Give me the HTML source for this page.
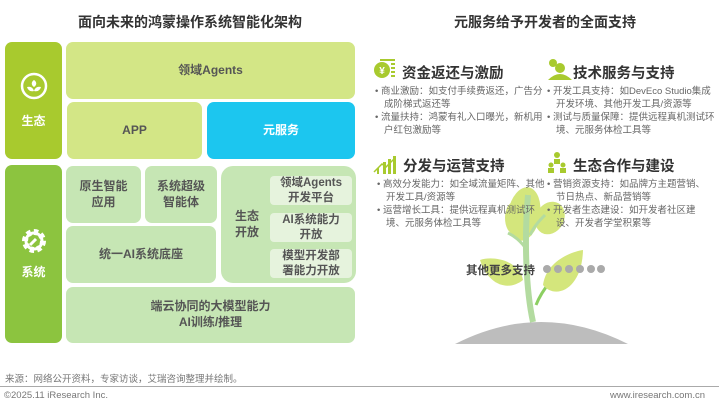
<!DOCTYPE html>
<html><head><meta charset="utf-8"><style>
body{margin:0;width:719px;height:402px;background:#fff;position:relative;overflow:hidden;font-family:"Liberation Sans","Noto Sans CJK SC",sans-serif;}
.a{position:absolute;box-sizing:border-box;display:flex;align-items:center;justify-content:center;text-align:center;font-weight:bold;color:#555;border-radius:7px;line-height:1.3;}
.t{position:absolute;font-weight:bold;color:#333;}
.h{position:absolute;font-size:14.5px;font-weight:bold;color:#333;}
.b{position:absolute;font-size:9.5px;color:#666;line-height:13px;width:172px;}
.b p{margin:0;padding-left:9px;text-indent:-9px;}
</style></head><body>
<div class="t" style="left:0;width:380px;top:12px;text-align:center;font-size:14px">面向未来的鸿蒙操作系统智能化架构</div>
<div class="t" style="left:380px;width:330px;top:12px;text-align:center;font-size:14px">元服务给予开发者的全面支持</div>

<div class="a" style="left:5px;top:42px;width:57px;height:117px;background:#a8ca2e;color:#fff;flex-direction:column;font-size:12px">
<svg width="28" height="28" viewBox="0 0 28 28" style="margin-bottom:14px"><circle cx="14" cy="14" r="12" fill="none" stroke="#fff" stroke-width="2.5"/><path d="M14 8c3 2 3 5 0 7c-3-2-3-5 0-7zM7 15c4-1 6 1 7 4c-4 1-6-1-7-4zM21 15c-4-1-6 1-7 4c4 1 6-1 7-4z" fill="#fff"/></svg>生态</div>
<div class="a" style="left:5px;top:165px;width:57px;height:178px;background:#8cc43f;color:#fff;flex-direction:column;font-size:12px">
<svg width="28" height="28" viewBox="0 0 28 28" style="margin-bottom:10px"><circle cx="14" cy="14" r="9" fill="none" stroke="#fff" stroke-width="6" stroke-dasharray="4 3"/><circle cx="14" cy="14" r="8" fill="none" stroke="#fff" stroke-width="3"/><path d="M10 18l6-6" stroke="#fff" stroke-width="3"/></svg>系统</div>

<div class="a" style="left:66px;top:42px;width:289px;height:57px;background:#d3e686;font-size:12px">领域Agents</div>
<div class="a" style="left:67px;top:102px;width:135px;height:57px;background:#d3e686;font-size:12px">APP</div>
<div class="a" style="left:207px;top:102px;width:148px;height:57px;background:#1cc6ef;color:#fff;font-size:12px">元服务</div>

<div class="a" style="left:66px;top:166px;width:75px;height:57px;background:#c6e6b4;font-size:12px">原生智能<br>应用</div>
<div class="a" style="left:145px;top:166px;width:72px;height:57px;background:#c6e6b4;font-size:12px">系统超级<br>智能体</div>
<div class="a" style="left:66px;top:226px;width:150px;height:57px;background:#c6e6b4;font-size:12px">统一AI系统底座</div>
<div class="a" style="left:221px;top:166px;width:135px;height:117px;background:#c6e6b4;border-radius:12px;justify-content:flex-start;padding-left:14px;font-size:12px">生态<br>开放</div>
<div class="a" style="left:270px;top:176px;width:82px;height:29px;background:#e6f3dd;border-radius:4px;font-size:11.5px;line-height:1.25">领域Agents<br>开发平台</div>
<div class="a" style="left:270px;top:213px;width:82px;height:29px;background:#e6f3dd;border-radius:4px;font-size:11.5px;line-height:1.25">AI系统能力<br>开放</div>
<div class="a" style="left:270px;top:249px;width:82px;height:29px;background:#e6f3dd;border-radius:4px;font-size:11.5px;line-height:1.25">模型开发部<br>署能力开放</div>
<div class="a" style="left:66px;top:287px;width:289px;height:56px;background:#c6e6b4;font-size:12px">端云协同的大模型能力<br>AI训练/推理</div>

<div style="position:absolute;left:5px;top:371px;font-size:9.5px;color:#777">来源：网络公开资料，专家访谈，艾瑞咨询整理并绘制。</div>
<div style="position:absolute;left:0;top:386px;width:719px;height:1px;background:#aaa"></div>
<div style="position:absolute;left:4px;top:390px;font-size:9.5px;color:#777">©2025.11 iResearch Inc.</div>
<div style="position:absolute;right:14px;top:390px;font-size:9.5px;color:#777">www.iresearch.com.cn</div>

<svg style="position:absolute;left:0;top:0" width="719" height="402">
<path d="M455 344 Q541 300 628 344 Z" fill="#bdbdbd"/>
<ellipse cx="524" cy="214" rx="16" ry="27" fill="#d4e67c" transform="rotate(10 524 214)"/>
<ellipse cx="514" cy="218" rx="9" ry="16" fill="#d4e67c"/>
<ellipse cx="550" cy="218" rx="14" ry="17" fill="#d4e67c" transform="rotate(30 550 218)"/>
<path d="M533 322 C526 290 524 240 528 195" stroke="#b3dba0" stroke-width="6" fill="none"/>
<path d="M527 250 C520 240 514 236 508 233" stroke="#b3dba0" stroke-width="3" fill="none"/>
<path d="M530 235 C535 225 540 220 545 215" stroke="#b3dba0" stroke-width="3" fill="none"/>
<path d="M536 305 C540 295 545 288 550 282" stroke="#8ccf62" stroke-width="3" fill="none"/>
<path d="M480 260 C495 255 520 262 523 280 C508 292 488 285 480 260Z" fill="#d4e67c"/>
<path d="M583 250 C570 252 546 262 543 285 C555 300 582 290 583 250Z" fill="#d4e67c"/>
<g fill="#aaa"><circle cx="547" cy="269" r="4"/><circle cx="558" cy="269" r="4"/><circle cx="569" cy="269" r="4"/><circle cx="580" cy="269" r="4"/><circle cx="591" cy="269" r="4"/><circle cx="601" cy="269" r="4"/></g>
<circle cx="382" cy="70" r="8" fill="#a8ca2e"/><text x="382" y="74" font-size="10" fill="#fff" text-anchor="middle" font-weight="bold">¥</text>
<g fill="#a8ca2e"><rect x="380" y="59" width="15" height="2"/><rect x="391" y="63" width="4" height="2"/><rect x="391" y="67" width="4" height="2"/><rect x="391" y="71" width="4" height="2"/><rect x="391" y="75" width="4" height="2"/></g>
<g fill="#a8ca2e"><circle cx="553" cy="63" r="4"/><circle cx="560" cy="68" r="5"/><path d="M548 80 q12-12 24 0z"/>
<rect x="377" y="168" width="2" height="6"/><rect x="383" y="162" width="3" height="12"/><rect x="388" y="159" width="3" height="15"/><rect x="393" y="156" width="3" height="18"/><path d="M374 172 l8-8 4 3 8-8" stroke="#a8ca2e" fill="none" stroke-width="1.5"/>
<circle cx="557" cy="155" r="3"/><rect x="554" y="159" width="6" height="5"/><circle cx="551" cy="165" r="2.5"/><rect x="548" y="168" width="6" height="5"/><circle cx="563" cy="165" r="2.5"/><rect x="560" y="168" width="6" height="5"/></g>
</svg>
<div style="position:absolute;left:466px;top:262px;font-size:11.5px;font-weight:bold;color:#444">其他更多支持</div>

<div class="h" style="left:402px;top:62px">资金返还与激励</div>
<div class="b" style="left:375px;top:85px"><p>• 商业激励：如支付手续费返还，广告分成阶梯式返还等</p><p>• 流量扶持：鸿蒙有礼入口曝光，新机用户红包激励等</p></div>
<div class="h" style="left:573px;top:62px">技术服务与支持</div>
<div class="b" style="left:547px;top:85px;width:170px"><p>• 开发工具支持：如DevEco Studio集成开发环境、其他开发工具/资源等</p><p>• 测试与质量保障：提供远程真机测试环境、元服务体检工具等</p></div>
<div class="h" style="left:403px;top:155px">分发与运营支持</div>
<div class="b" style="left:377px;top:178px;width:172px"><p>• 高效分发能力：如全域流量矩阵、其他开发工具/资源等</p><p>• 运营增长工具：提供远程真机测试环境、元服务体检工具等</p></div>
<div class="h" style="left:573px;top:155px">生态合作与建设</div>
<div class="b" style="left:547px;top:178px;width:160px"><p>• 营销资源支持：如品牌方主题营销、节日热点、新品营销等</p><p>• 开发者生态建设：如开发者社区建设、开发者学堂积累等</p></div>
</body></html>
